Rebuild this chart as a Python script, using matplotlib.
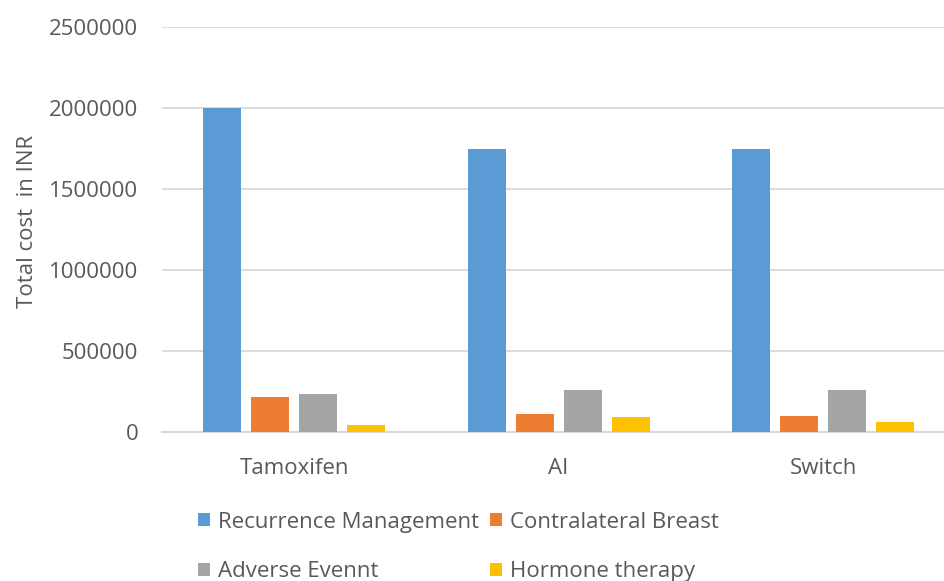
import matplotlib.pyplot as plt
import numpy as np

plt.rcParams['font.family'] = ['Open Sans', 'DejaVu Sans']

categories = ['Tamoxifen', 'AI', 'Switch']
series_names = ['Recurrence Management', 'Contralateral Breast',
                'Adverse Evennt', 'Hormone therapy']
recurrence = [2000000, 1750000, 1750000]
contralateral = [216000, 114000, 96000]
adverse = [235000, 262000, 262000]
hormone = [43000, 95000, 62000]
colors = ['#5B9BD5', '#ED7D31', '#A5A5A5', '#FFC000']
yticks = [0, 500000, 1000000, 1500000, 2000000, 2500000]

text_col = '#595959'
grid_col = '#D9D9D9'
fs = 16

fig = plt.figure(figsize=(9.45, 5.81), dpi=100)
ax = fig.add_axes([162 / 945, 1 - 432 / 581, 1 - 162 / 945, (432 - 27) / 581])

x = np.arange(len(categories))
width = 0.144
step = 0.1815
all_series = [recurrence, contralateral, adverse, hormone]
handles = []
for i, (vals, name, c) in enumerate(zip(all_series, series_names, colors)):
    h = ax.bar(x + (i - 1.5) * step, vals, width, color=c, label=name, zorder=3)
    handles.append(h)

ax.set_xlim(-0.5, 2.461)
ax.set_ylim(0, 2500000)
ax.set_yticks(yticks)
ax.set_yticklabels([str(v) for v in yticks])
ax.set_xticks(x)
ax.set_xticklabels(categories)
ax.yaxis.grid(True, color=grid_col, linewidth=1.3, zorder=0)
for s in ['top', 'right', 'left']:
    ax.spines[s].set_visible(False)
ax.spines['bottom'].set_color(grid_col)
ax.spines['bottom'].set_linewidth(1.5)
ax.tick_params(axis='both', length=0, colors=text_col, labelsize=fs)
ax.tick_params(axis='y', pad=17)
ax.tick_params(axis='x', pad=19)
ax.set_ylabel('Total cost  in INR', color=text_col, fontsize=fs)
ax.yaxis.set_label_coords(-0.158, 0.52)

# legend fills column-wise, so reorder to get row-wise layout
order = [0, 2, 1, 3]
fig.legend([handles[i] for i in order], [series_names[i] for i in order],
           loc='lower left', bbox_to_anchor=(178 / 945, -0.037), ncol=2, frameon=False,
           fontsize=fs, handlelength=0.55, handleheight=0.55, handletextpad=0.35,
           columnspacing=0.5, labelspacing=1.3, labelcolor=text_col)

fig.savefig('out.png', dpi=100)
